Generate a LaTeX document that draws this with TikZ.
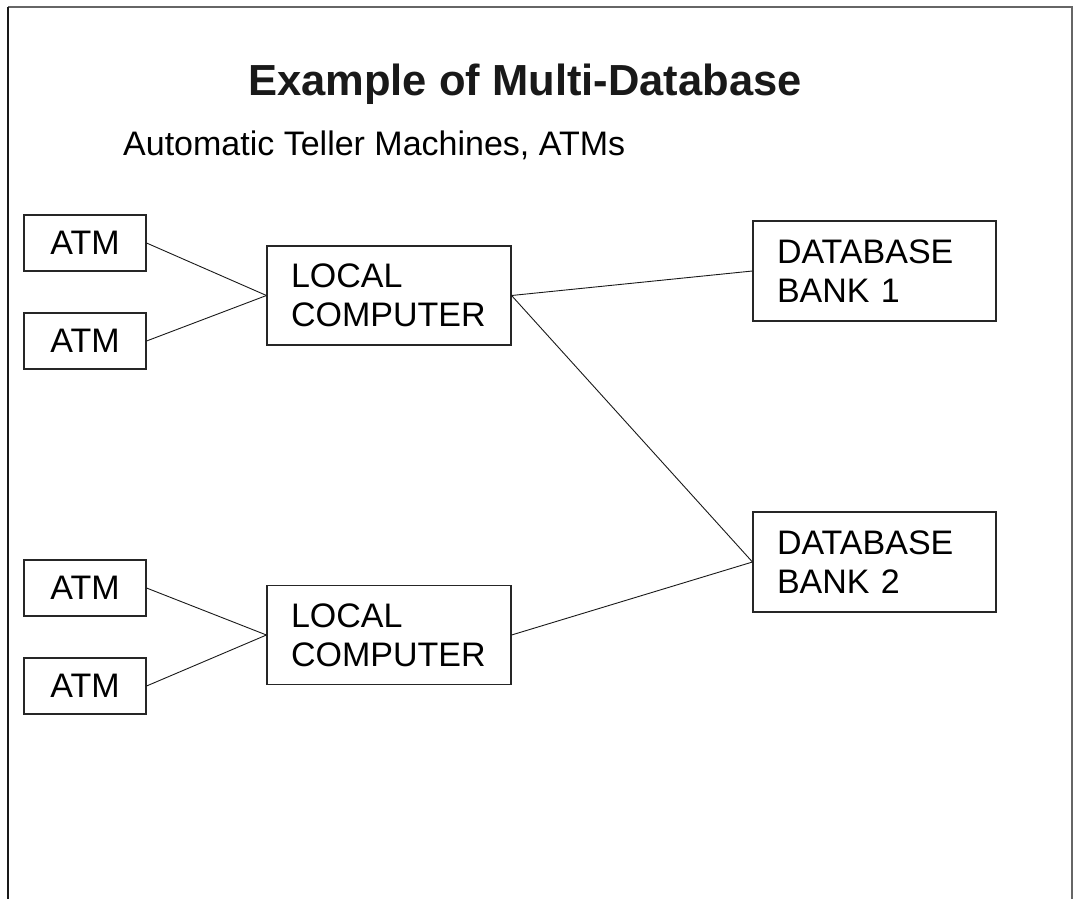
\documentclass[tikz,border=0pt]{standalone}
\usepackage{fontspec}
\setmainfont{Liberation Sans}
\begin{document}
\begin{tikzpicture}[x=1pt,y=-1pt,
  unit/.style={draw=black!85, line width=1.1pt, rectangle, inner sep=0pt,
    font=\fontsize{34}{39}\selectfont},
  atmbox/.style={unit, minimum width=122pt, minimum height=56pt},
  hostbox/.style={unit, minimum height=99pt, text width=196pt, inner xsep=24pt, align=left},
  dbbox/.style={unit, minimum height=100pt, text width=195pt, inner xsep=24pt, align=left},
  link/.style={draw=black!90, line width=0.9pt},
  frameline/.style={line width=1.6pt}]
\useasboundingbox (0,0) rectangle (1073,899);

% page frame
\draw[frameline, black!60] (8,7) -- (1072,7) -- (1072,899);
\draw[frameline, black!90] (8,7) -- (8,899);

% headings
\node[font=\fontsize{43.5}{50}\selectfont\bfseries, text=black!90, anchor=base] (title) at (525,95) {Example of Multi-Database};
\node[font=\fontsize{34}{40}\selectfont, anchor=base west, inner sep=0pt] (subtitle) at (123,155) {Automatic Teller Machines, ATMs};

% ATM terminals
\node[atmbox] (atm1) at (85,243) {ATM};
\node[atmbox] (atm2) at (85,341) {ATM};
\node[atmbox] (atm3) at (85,588) {ATM};
\node[atmbox] (atm4) at (85,686) {ATM};

% local computers
\node[hostbox] (lc1) at (389,295.5) {LOCAL\\COMPUTER};
\node[hostbox] (lc2) at (389,635) {LOCAL\\COMPUTER};

% bank databases
\node[dbbox] (db1) at (874.5,271) {DATABASE\\BANK 1};
\node[dbbox] (db2) at (874.5,562) {DATABASE\\BANK 2};

% links
\draw[link] (atm1.east) -- (lc1.west);
\draw[link] (atm2.east) -- (lc1.west);
\draw[link] (atm3.east) -- (lc2.west);
\draw[link] (atm4.east) -- (lc2.west);
\draw[link] (lc1.east) -- (db1.west);
\draw[link] (lc1.east) -- (db2.west);
\draw[link] (lc2.east) -- (db2.west);
\end{tikzpicture}
\end{document}
